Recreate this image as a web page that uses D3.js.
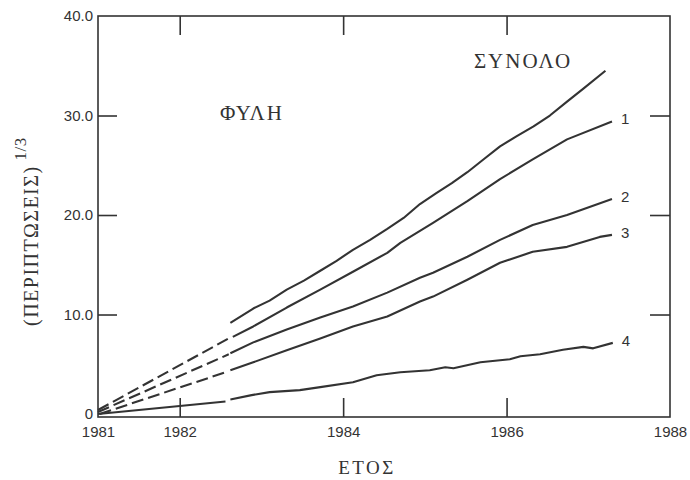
<!DOCTYPE html>
<html><head><meta charset="utf-8">
<script src="https://cdn.jsdelivr.net/npm/d3@7"></script>
<style>body{margin:0;background:#fff}</style>
</head><body>
<svg id="chart" width="690" height="480"></svg>
<script>
// ---- data ----
const xTickValues = [1981, 1982, 1984, 1986, 1988];
const xMinorTicks = [1982, 1984, 1986];
const yTickValues = [0, 10, 20, 30, 40];
const yTickLabels = ["0", "10.0", "20.0", "30.0", "40.0"];
const yInnerTicks = [10, 20, 30];

const totalYears  = [1982.62, 1982.90, 1983.10, 1983.31, 1983.52, 1983.72, 1983.92, 1984.12, 1984.33, 1984.54, 1984.74, 1984.94, 1985.14, 1985.33, 1985.52, 1985.72, 1985.92, 1986.12, 1986.33, 1986.53, 1986.74, 1986.94, 1987.21];
const totalValues = [9.15, 10.6, 11.4, 12.5, 13.4, 14.4, 15.4, 16.5, 17.5, 18.6, 19.7, 21.1, 22.2, 23.2, 24.3, 25.6, 26.9, 27.9, 28.9, 30.0, 31.4, 32.7, 34.5];

const s1Years  = [1982.65, 1982.90, 1983.31, 1983.72, 1984.12, 1984.54, 1984.70, 1985.10, 1985.52, 1985.92, 1986.32, 1986.74, 1987.29];
const s1Values = [7.75, 8.8, 10.7, 12.5, 14.3, 16.2, 17.2, 19.2, 21.4, 23.6, 25.6, 27.6, 29.4];

const s2Years  = [1982.62, 1982.90, 1983.31, 1983.72, 1984.12, 1984.54, 1984.94, 1985.10, 1985.52, 1985.92, 1986.32, 1986.74, 1987.29];
const s2Values = [6.1, 7.2, 8.5, 9.7, 10.8, 12.2, 13.7, 14.2, 15.8, 17.5, 19.0, 20.0, 21.6];

const s3Years  = [1982.62, 1982.90, 1983.31, 1983.72, 1984.12, 1984.54, 1984.94, 1985.10, 1985.52, 1985.92, 1986.32, 1986.74, 1987.14, 1987.29];
const s3Values = [4.4, 5.2, 6.4, 7.6, 8.8, 9.8, 11.3, 11.8, 13.5, 15.2, 16.3, 16.8, 17.8, 18.0];

const s4aYears  = [1981.0, 1982.0, 1982.56];
const s4aValues = [0.0, 0.8, 1.25];
const s4Years  = [1982.62, 1982.88, 1983.10, 1983.47, 1983.72, 1984.12, 1984.41, 1984.70, 1985.06, 1985.25, 1985.35, 1985.68, 1986.04, 1986.17, 1986.41, 1986.69, 1986.94, 1987.06, 1987.30];
const s4Values = [1.45, 1.9, 2.2, 2.4, 2.7, 3.2, 3.9, 4.2, 4.4, 4.7, 4.6, 5.2, 5.5, 5.8, 6.0, 6.45, 6.75, 6.6, 7.15];

// dashed back-extrapolations
const d1Years = [1981.0, 1982.60], d1Values = [0.4, 7.6];
const d2Years = [1981.0, 1982.60], d2Values = [0.2, 6.0];
const d3Years = [1981.02, 1982.60], d3Values = [0.0, 4.3];

const seriesLabels = ["1", "2", "3", "4"];

// ---- chart ----
const svg = d3.select("#chart");
const ink = "#333";
const x = d3.scaleLinear().domain([1981, 1988]).range([98, 670]);
const y = d3.scaleLinear().domain([-0.3, 40]).range([417, 16]);
const x0 = x(1981), x1 = x(1988), yB = y(-0.3), yT = y(40);

const zip = (a, b) => a.map((v, i) => [v, b[i]]);
const line = d3.line().x(d => x(d[0])).y(d => y(d[1])).curve(d3.curveLinear);

// frame
svg.append("rect").attr("x", x0).attr("y", yT).attr("width", x1 - x0).attr("height", yB - yT)
  .attr("fill", "none").attr("stroke", ink).attr("stroke-width", 1.6);

const sans = "'Liberation Sans', Arial, Helvetica, sans-serif";
const serif = "'Liberation Serif', 'Times New Roman', serif";

const yAxisLab = d3.axisLeft(y).tickValues(yTickValues).tickSize(0).tickPadding(5)
  .tickFormat((d, i) => yTickLabels[i]);
const gyl = svg.append("g").attr("transform", `translate(${x0},0)`).call(yAxisLab);
gyl.select(".domain").remove();
gyl.selectAll("text").attr("font-family", sans).attr("font-size", 15).attr("fill", ink);

const xAxisLab = d3.axisBottom(x).tickValues(xTickValues).tickSize(0).tickPadding(9)
  .tickFormat(d3.format("d"));
const gxl = svg.append("g").attr("transform", `translate(0,${yB})`).call(xAxisLab);
gxl.select(".domain").remove();
gxl.selectAll("text").attr("font-family", sans).attr("font-size", 15).attr("fill", ink);

// inner ticks
function ticks(axis, tr) {
  const g = svg.append("g").attr("transform", tr).call(axis);
  g.select(".domain").remove();
  g.selectAll("text").remove();
  g.selectAll("line").attr("stroke", ink).attr("stroke-width", 1.6);
}
ticks(d3.axisLeft(y).tickValues(yInnerTicks).tickSize(-19), `translate(${x0},0)`);
ticks(d3.axisRight(y).tickValues(yInnerTicks).tickSize(-20), `translate(${x1},0)`);
ticks(d3.axisBottom(x).tickValues(xMinorTicks).tickSize(-19), `translate(0,${yB})`);
ticks(d3.axisTop(x).tickValues(xMinorTicks).tickSize(-19), `translate(0,${yT})`);

// curves
const solid = [zip(totalYears, totalValues), zip(s1Years, s1Values), zip(s2Years, s2Values),
               zip(s3Years, s3Values), zip(s4aYears, s4aValues), zip(s4Years, s4Values)];
svg.append("g").selectAll("path").data(solid).join("path")
  .attr("d", line).attr("fill", "none").attr("stroke", ink).attr("stroke-width", 2.1)
  .attr("stroke-linejoin", "round");

const dashed = [zip(d1Years, d1Values), zip(d2Years, d2Values), zip(d3Years, d3Values)];
svg.append("g").selectAll("path").data(dashed).join("path")
  .attr("d", line).attr("fill", "none").attr("stroke", ink).attr("stroke-width", 2.1)
  .attr("stroke-dasharray", "12,5");

// end labels
const ends = [
  [s1Years.at(-1), s1Values.at(-1)],
  [s2Years.at(-1), s2Values.at(-1)],
  [s3Years.at(-1), s3Values.at(-1)],
  [s4Years.at(-1), s4Values.at(-1)]
];
svg.append("g").selectAll("text").data(ends).join("text")
  .attr("x", d => x(d[0]) + 9).attr("y", d => y(d[1]) + 3)
  .attr("font-family", sans).attr("font-size", 15).attr("fill", ink)
  .text((d, i) => seriesLabels[i]);

// annotations
svg.append("text").attr("x", 252).attr("y", 120).attr("text-anchor", "middle")
  .attr("font-family", serif).attr("font-size", 21).attr("letter-spacing", 2).attr("fill", ink)
  .text("ΦΥΛΗ");
svg.append("text").attr("x", 523).attr("y", 68).attr("text-anchor", "middle")
  .attr("font-family", serif).attr("font-size", 21).attr("letter-spacing", 2).attr("fill", ink)
  .text("ΣΥΝΟΛΟ");

// axis titles
svg.append("text").attr("x", 367).attr("y", 474).attr("text-anchor", "middle")
  .attr("font-family", serif).attr("font-size", 19).attr("letter-spacing", 2.5).attr("fill", ink)
  .text("ΕΤΟΣ");

const yt = svg.append("text").attr("transform", "translate(38,326) rotate(-90)")
  .attr("font-family", serif).attr("font-size", 20).attr("letter-spacing", 1.5).attr("fill", ink);
yt.append("tspan").text("(ΠΕΡΙΠΤΩΣΕΙΣ)");
yt.append("tspan").attr("dx", 5).attr("dy", -12).attr("font-size", 17).attr("letter-spacing", 0.5).text("1/3");
</script>
</body></html>
